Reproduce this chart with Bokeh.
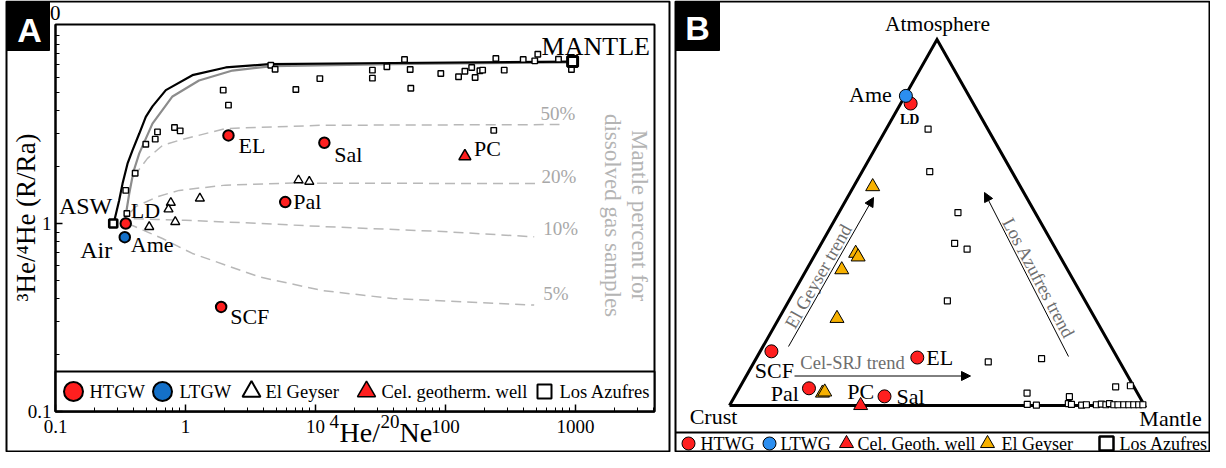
import math
from bokeh.plotting import figure
from bokeh.models import (Range1d, FixedTicker, CustomJSTickFormatter, Arrow, NormalHead,
                          LogAxis, LogScale)
from bokeh.core.properties import value
from bokeh.embed import file_html
from bokeh.resources import INLINE

SERIF = "Liberation Serif"
SANS = "Liberation Sans"
RED = "#ff1f1f"
BLUE_A = "#1470c8"
BLUE_B = "#2b8ef0"
YELLOW = "#f7b100"

# ---------------- Panel A data (4He/20Ne vs 3He/4He R/Ra) ----------------
htgw_names = ["EL", "Sal", "Pal", "LD", "SCF"]
htgw_hene = [2.14, 11.7, 5.85, 0.347, 1.88]
htgw_r = [2.94, 2.69, 1.30, 1.00, 0.36]

ltgw_names = ["Ame"]
ltgw_hene = [0.341]
ltgw_r = [0.846]

well_names = ["PC"]
well_hene = [141.0]
well_r = [2.28]

geyser_hene = [0.526, 0.771, 0.740, 0.834, 1.29, 7.40, 8.96]
geyser_r = [0.96, 1.29, 1.19, 1.02, 1.36, 1.70, 1.67]

azufres_hene = [0.347, 0.354, 0.410, 0.495, 0.585, 0.609, 0.823, 0.910, 1.95, 2.14,
                4.53, 4.89, 7.06, 10.8, 27.4, 27.4, 35.4, 48.4, 53.5, 54.1, 92.0,
                126, 141, 159, 169, 184, 193, 235, 244, 283, 396, 486, 513, 740,
                931, 965, 931]
azufres_r = [1.50, 1.13, 1.85, 2.64, 2.81, 3.07, 3.24, 3.11, 5.12, 4.26,
             6.95, 6.62, 5.16, 5.90, 6.54, 5.93, 6.82, 7.45, 6.59, 5.24, 6.28,
             6.03, 6.46, 6.76, 5.98, 6.49, 6.54, 3.13, 7.55, 6.54, 7.45, 7.33, 7.95, 7.48,
             7.64, 7.18, 6.59]

air_hene = [0.278]
air_r = [1.0]
mantle_hene = [950.0]
mantle_r = [7.27]

# mixing curves
mix_air_hene = [0.278, 0.284, 0.309, 0.328, 0.358, 0.391, 0.441, 0.495, 0.557, 0.706, 1.13, 2.04, 4.40, 39.0, 931.0]
mix_air_r = [1.00, 1.04, 1.33, 1.63, 2.08, 2.45, 3.01, 3.69, 4.20, 5.12, 6.15, 6.76, 7.04, 7.14, 7.27]
mix_asw_hene = [0.339, 0.369, 0.398, 0.441, 0.557, 0.794, 1.27, 2.30, 4.67, 39.0, 931.0]
mix_asw_r = [1.00, 1.44, 1.89, 2.36, 3.40, 4.74, 5.76, 6.51, 6.87, 7.04, 7.20]

pct_labels = ["50%", "20%", "10%", "5%"]
pct_hene = [
    [0.40, 0.51, 0.665, 0.894, 2.03, 11.3, 753.0],
    [0.38, 0.415, 0.609, 0.894, 2.03, 6.65, 538.0],
    [0.40, 0.60, 1.0, 2.74, 11.3, 94.8, 481.0],
    [0.36, 0.391, 0.665, 1.13, 3.69, 11.3, 39.0, 481.0],
]
pct_r = [
    [1.78, 2.22, 2.60, 2.77, 3.20, 3.33, 3.36],
    [1.15, 1.23, 1.39, 1.50, 1.60, 1.64, 1.63],
    [1.06, 1.05, 1.04, 1.01, 0.964, 0.906, 0.85],
    [1.0, 0.976, 0.832, 0.693, 0.52, 0.44, 0.399, 0.368],
]

x_tick_vals = [0.1, 1, 10, 100, 1000]
y_tick_vals = [0.1, 1]

# ---------------- Panel B data (ternary: atmosphere / mantle fractions) ----------------
b_htwg_names = ["LD", "SCF", "EL", "Pal", "Sal"]
b_htwg_atm = [0.825, 0.148, 0.131, 0.047, 0.025]
b_htwg_man = [0.024, 0.027, 0.387, 0.168, 0.361]
b_ltwg_names = ["Ame"]
b_ltwg_atm = [0.846]
b_ltwg_man = [0.002]
b_well_names = ["PC"]
b_well_atm = [0.0]
b_well_man = [0.316]
b_geyser_atm = [0.598, 0.416, 0.406, 0.371, 0.238, 0.034, 0.037]
b_geyser_man = [0.046, 0.096, 0.107, 0.085, 0.140, 0.207, 0.211]
b_azufres_atm = [0.755, 0.639, 0.527, 0.443, 0.427, 0.286, 0.119, 0.128, 0.034, 0.003,
                 0.001, 0.024, 0.005, 0.003, 0.001, 0.002, 0.002, 0.004, 0.002, 0.005,
                 0.002, 0.051, 0.002, 0.002, 0.002, 0.054, 0.002, 0.002, 0.002]
b_azufres_man = [0.101, 0.163, 0.287, 0.321, 0.359, 0.382, 0.564, 0.688, 0.700, 0.716,
                 0.739, 0.807, 0.814, 0.8225, 0.848, 0.859, 0.883, 0.894, 0.906, 0.913,
                 0.925, 0.905, 0.935, 0.949, 0.961, 0.939, 0.973, 0.985, 0.995]


# ---------------- geometry helpers (reference-picture pixels -> data) ----------------
def ax(px):      # panel A, log x
    return 10 ** ((px - 63) / 130.0 - 1)

def ay(py):      # panel A, log y
    return 10 ** ((230 - py) / 188.0)

def bx(px):      # panel B, ternary plane x
    return (px - 743) / 415.0

def by(py):      # panel B, ternary plane y
    return (413 - py) / 366.0

def tx(a, m):
    return m + 0.5 * a


W, H = 1210, 452
A_DX, A_DY = 8, 7      # canvas offset of panel A in reference pixels
B_DX, B_DY = 14, 8     # canvas offset of panel B in reference pixels

p = figure(width=W, height=H, x_axis_type=None, y_axis_type=None,
           x_range=Range1d(bx(B_DX), bx(W + B_DX)), y_range=Range1d(by(H + B_DY), by(B_DY)),
           extra_x_ranges={"ax": Range1d(ax(A_DX), ax(W + A_DX))},
           extra_y_ranges={"ay": Range1d(ay(H + A_DY), ay(A_DY))},
           extra_x_scales={"ax": LogScale()}, extra_y_scales={"ay": LogScale()},
           output_backend="svg", toolbar_location=None,
           min_border_left=0, min_border_right=0, min_border_top=0, min_border_bottom=0)
p.title.visible = False
p.outline_line_color = None
p.background_fill_color = "white"
p.border_fill_color = "white"

A = dict(x_range_name="ax", y_range_name="ay")


def txtA(x, y, s, size, dx=0, dy=0, align="left", color="black", angle=0.0,
         baseline="middle", font=SERIF, style="normal"):
    p.text(x=[x], y=[y], text=[s], x_offset=dx, y_offset=dy, angle=angle,
           text_font=value(font), text_font_size=size, text_color=color,
           text_align=align, text_baseline=baseline, text_font_style=style, **A)


def txtB(x, y, s, size, dx=0, dy=0, align="left", color="black", angle=0.0,
         style="normal", font=SERIF):
    p.text(x=[x], y=[y], text=[s], x_offset=dx, y_offset=dy, angle=angle,
           text_font=value(font), text_font_size=size, text_color=color,
           text_align=align, text_baseline="middle", text_font_style=style)


# ======================= Panel A =======================
# outer panel border
p.quad(left=ax(14), right=ax(677), top=ay(8), bottom=ay(458), fill_color=None,
       line_color="black", line_width=2, **A)
# inner plot box
p.quad(left=ax(63), right=ax(662), top=ay(31), bottom=ay(418), fill_color=None,
       line_color="black", line_width=2, **A)

minor_x = [m * d for d in [0.1, 1, 10, 100] for m in range(2, 10)] + [2000, 3000, 4000]
minor_y = [m * d for d in [0.1, 1] for m in range(2, 10)] + [10]
fmt = CustomJSTickFormatter(code="return tick >= 1 ? tick.toFixed(0) : tick.toFixed(1);")
xa = LogAxis(x_range_name="ax", y_range_name="ay", fixed_location=ay(418),
             bounds=(ax(63), ax(662)),
             ticker=FixedTicker(ticks=x_tick_vals, minor_ticks=minor_x), formatter=fmt)
ya = LogAxis(x_range_name="ax", y_range_name="ay", fixed_location=ax(63),
             bounds=(ay(418), ay(31)),
             ticker=FixedTicker(ticks=y_tick_vals, minor_ticks=minor_y), formatter=fmt)
for a in (xa, ya):
    a.axis_line_width = 2
    a.axis_line_color = "black"
    a.major_tick_in = 7
    a.major_tick_out = 0
    a.minor_tick_in = 4
    a.minor_tick_out = 0
    a.major_tick_line_width = 1.5
    a.major_label_text_font = SERIF
    a.major_label_text_font_size = "19px"
    a.major_label_text_color = "black"
xa.major_label_standoff = 8
ya.major_label_standoff = 4
p.add_layout(xa, "below")
p.add_layout(ya, "left")

# dashed mantle-percent curves
pct_offsets = {"50%": (-19, -11), "20%": (1, -7), "10%": (9, -8), "5%": (9, -12)}
for lab, xs, ys in zip(pct_labels, pct_hene, pct_r):
    p.line(xs, ys, line_color="#b8b8b8", line_width=1.5, line_dash="10 6", **A)
    dx, dy = pct_offsets[lab]
    txtA(xs[-1], ys[-1], lab, "19px", dx=dx, dy=dy, color="#a8a8a8")

# mixing curves
p.line(mix_asw_hene, mix_asw_r, line_color="#8c8c8c", line_width=2.2, **A)
p.line(mix_air_hene, mix_air_r, line_color="black", line_width=2.2, **A)

# samples
p.scatter(azufres_hene, azufres_r, marker="square", size=5.5, fill_color="white",
          line_color="black", line_width=1.4, **A)
p.scatter(air_hene, air_r, marker="square", size=8, fill_color="white",
          line_color="black", line_width=2.6, **A)
p.scatter(mantle_hene, mantle_r, marker="square", size=10, fill_color="white",
          line_color="black", line_width=3, **A)
p.scatter(geyser_hene, geyser_r, marker="triangle", size=9, fill_color="white",
          line_color="black", line_width=1.4, **A)
p.scatter(well_hene, well_r, marker="triangle", size=12, fill_color=RED,
          line_color="black", line_width=1.5, **A)
p.scatter(htgw_hene, htgw_r, marker="circle", size=10.5, fill_color=RED,
          line_color="black", line_width=2, **A)
p.scatter(ltgw_hene, ltgw_r, marker="circle", size=10.5, fill_color=BLUE_A,
          line_color="black", line_width=2, **A)

label_off_A = {"EL": (10, 10), "Sal": (10, 12), "Pal": (8, -1), "LD": (5, -13),
               "SCF": (9, 10), "Ame": (6, 7), "PC": (9, -8)}
for names, xs, ys in ((htgw_names, htgw_hene, htgw_r), (ltgw_names, ltgw_hene, ltgw_r),
                      (well_names, well_hene, well_r)):
    for n, x, y in zip(names, xs, ys):
        dx, dy = label_off_A[n]
        txtA(x, y, n, "22px", dx=dx, dy=dy)
txtA(air_hene[0], air_r[0], "ASW", "24px", dx=-1, dy=-18, align="right")
txtA(air_hene[0], air_r[0], "Air", "24px", dx=-1, dy=26, align="right")
txtA(mantle_hene[0], mantle_r[0], "MANTLE", "26px", dx=-31, dy=-15)

# rotated side note
txtA(ax(647), ay(222), "Mantle percent for", "23px", align="center", color="#b4b4b4", angle=-math.pi / 2)
txtA(ax(620), ay(222), "dissolved gas samples", "23px", align="center", color="#b4b4b4", angle=-math.pi / 2)

# legend box and entries
p.quad(left=ax(63), right=ax(662), bottom=ay(418), top=ay(378), fill_color="white",
       line_color="black", line_width=2, **A)
ly = ay(398)
p.scatter([ax(81)], [ly], marker="circle", size=19, fill_color=RED, line_color="black", line_width=2, **A)
txtA(ax(97), ly, "HTGW", "18.5px")
p.scatter([ax(170)], [ly], marker="circle", size=19, fill_color=BLUE_A, line_color="black", line_width=2, **A)
txtA(ax(187), ly, "LTGW", "18.5px")
p.scatter([ax(259)], [ly], marker="triangle", size=18, fill_color="white", line_color="black", line_width=2, **A)
txtA(ax(273), ly, "El Geyser", "18.5px")
p.scatter([ax(374)], [ly], marker="triangle", size=18, fill_color=RED, line_color="black", line_width=1.5, **A)
txtA(ax(389), ly, "Cel. geotherm. well", "18.5px")
p.scatter([ax(552)], [ly], marker="square", size=14, fill_color="white", line_color="black", line_width=2, **A)
txtA(ax(567), ly, "Los Azufres", "18.5px")

# axis titles and top "10"
txtA(ax(68), ay(19), "10", "21px", align="right")
txtA(ax(33), ay(224), "³He/⁴He (R/Ra)", "27px", align="center", angle=math.pi / 2)
# x title built as raised digits + letters, like the original "4He/20Ne"
xt_mid = ay(439)
xt_pieces = [("4", 337, "19px", -11), ("He/", 347, "28px", 0), ("20", 388, "19px", -11), ("Ne", 407, "28px", 0)]
for s, left, size, rise in xt_pieces:
    txtA(ax(left), xt_mid, s, size, dy=rise)

# panel letter box
p.quad(left=ax(14), right=ax(57), top=ay(8), bottom=ay(57), fill_color="black",
       line_color="black", **A)
txtA(ax(37), ay(36), "A", "34px", align="center", color="white", style="bold", font=SANS)

# ======================= Panel B =======================
p.quad(left=bx(689), right=bx(1223), top=by(9), bottom=by(459), fill_color=None,
       line_color="black", line_width=2)

# triangle frame
p.line([tx(0, 0), tx(0, 1), tx(1, 0), tx(0, 0)], [0, 0, 1, 0], line_color="black",
       line_width=3, line_join="miter")
txtB(bx(951), by(31), "Atmosphere", "21.5px", align="center")
txtB(bx(727), by(424), "Crust", "22px", align="center")
txtB(bx(1184), by(426), "Mantle", "22px", align="center")

# trends
for (x0, y0, x1, y1) in [(802, 354, 887, 205), (808, 383.5, 984, 383.5), (1082, 364, 998, 200)]:
    p.add_layout(Arrow(end=NormalHead(size=9, line_color="black", fill_color="black", line_width=1),
                       x_start=bx(x0), y_start=by(y0), x_end=bx(x1), y_end=by(y1),
                       line_color="black", line_width=1))
txtB(bx(832), by(284), "El Geyser trend", "18.5px", align="center", color="#6e6e6e", angle=math.radians(60.4))
txtB(bx(866), by(370), "Cel-SRJ trend", "18.5px", align="center", color="#6e6e6e")
txtB(bx(1052), by(286), "Los Azufres trend", "18.5px", align="center", color="#6e6e6e", angle=math.radians(-62))

# samples
p.scatter([tx(a, m) for a, m in zip(b_azufres_atm, b_azufres_man)], b_azufres_atm,
          marker="square", size=6, fill_color="white", line_color="black", line_width=1.2)
p.scatter([tx(a, m) for a, m in zip(b_geyser_atm, b_geyser_man)], b_geyser_atm,
          marker="triangle", size=14, fill_color=YELLOW, line_color="black", line_width=1)
p.scatter([tx(a, m) for a, m in zip(b_well_atm, b_well_man)], b_well_atm,
          marker="triangle", size=14, fill_color=RED, line_color="black", line_width=1)
p.scatter([tx(a, m) for a, m in zip(b_htwg_atm, b_htwg_man)], b_htwg_atm,
          marker="circle", size=13, fill_color=RED, line_color="black", line_width=1)
p.scatter([tx(a, m) for a, m in zip(b_ltwg_atm, b_ltwg_man)], b_ltwg_atm,
          marker="circle", size=13, fill_color=BLUE_B, line_color="black", line_width=1)

label_off_B = {"LD": (-1, 16, "center"), "SCF": (3, 19, "center"), "EL": (9, 0, "left"),
               "Pal": (-10, 5, "right"), "Sal": (12, 0, "left"), "Ame": (-14, -1, "right"),
               "PC": (0, -14, "center")}
for names, atm, man in ((b_htwg_names, b_htwg_atm, b_htwg_man), (b_ltwg_names, b_ltwg_atm, b_ltwg_man),
                        (b_well_names, b_well_atm, b_well_man)):
    for n, a, m in zip(names, atm, man):
        dx, dy, al = label_off_B[n]
        if n == "LD":
            txtB(tx(a, m), a, n, "14px", dx=dx, dy=dy, align=al, style="bold")
        else:
            txtB(tx(a, m), a, n, "22px", dx=dx, dy=dy, align=al)

# panel letter box
p.quad(left=bx(689), right=bx(733), top=by(9), bottom=by(58), fill_color="black", line_color="black")
txtB(bx(711), by(35), "B", "34px", align="center", color="white", style="bold", font=SANS)

# B legend
p.segment(x0=[bx(689)], y0=[by(440)], x1=[bx(1223)], y1=[by(440)], line_color="black", line_width=2)
lyb = by(451)
p.scatter([bx(702)], [lyb], marker="circle", size=13, fill_color=RED, line_color="black", line_width=1)
txtB(bx(714), lyb, "HTWG", "18px")
p.scatter([bx(783)], [lyb], marker="circle", size=13, fill_color=BLUE_B, line_color="black", line_width=1)
txtB(bx(794), lyb, "LTWG", "18px")
p.scatter([bx(860)], [lyb], marker="triangle", size=14, fill_color=RED, line_color="black", line_width=1)
txtB(bx(871), lyb, "Cel. Geoth. well", "18px")
p.scatter([bx(1001)], [lyb], marker="triangle", size=14, fill_color=YELLOW, line_color="black", line_width=1)
txtB(bx(1015), lyb, "El Geyser", "18px")
p.scatter([bx(1120)], [lyb], marker="square", size=14, fill_color="white", line_color="black", line_width=2.5)
txtB(bx(1133), lyb, "Los Azufres", "18px")

open("out.html", "w").write(file_html(p, INLINE))
